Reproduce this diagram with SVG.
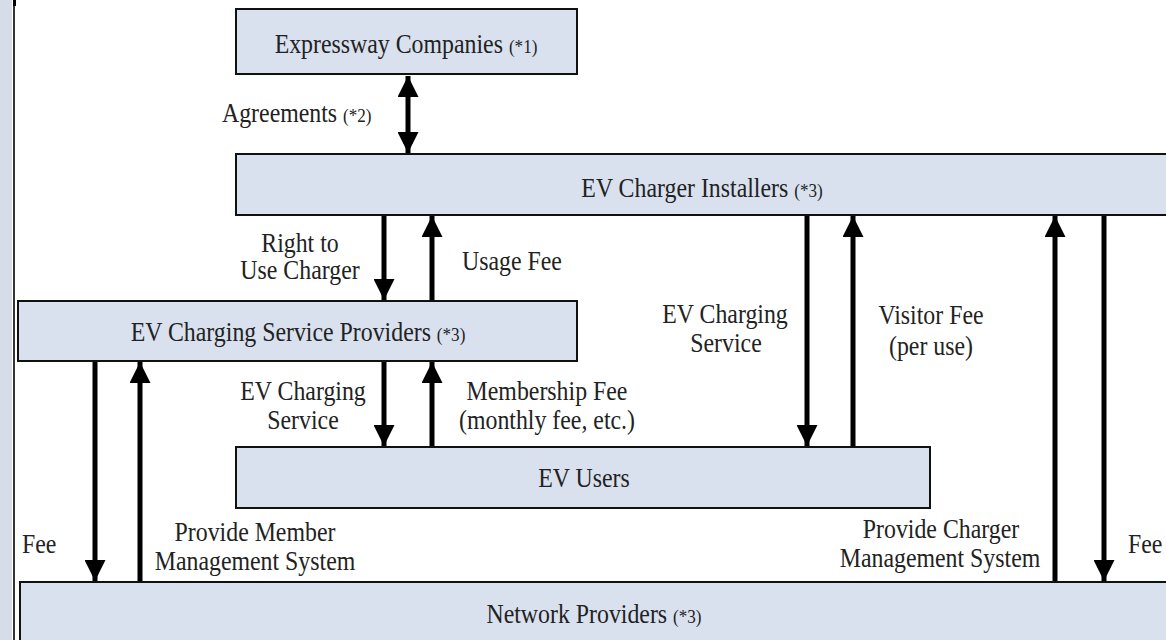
<svg xmlns="http://www.w3.org/2000/svg" width="1166" height="640" viewBox="0 0 1166 640">
<defs>
<marker id="ah" viewBox="0 0 10 10" refX="10" refY="5" markerWidth="4.2" markerHeight="4.2" orient="auto-start-reverse" markerUnits="strokeWidth">
<path d="M0,0 L10,5 L0,10 Z" fill="#000"/>
</marker>
</defs>
<rect x="0" y="0" width="1166" height="640" fill="#fff"/>
<rect x="0" y="0" width="12" height="640" fill="#d6dde8"/>
<line x1="14" y1="0" x2="14" y2="640" stroke="#333" stroke-width="2"/>
<line x1="14.5" y1="0" x2="14.5" y2="6" stroke="#000" stroke-width="3"/>

<g id="connectors" stroke="#000" stroke-width="5" fill="none">
<line x1="408" y1="76" x2="408" y2="153" marker-start="url(#ah)" marker-end="url(#ah)"/>
<line x1="384" y1="216" x2="384" y2="300" marker-end="url(#ah)"/>
<line x1="432" y1="300" x2="432" y2="216" marker-end="url(#ah)"/>
<line x1="384" y1="362" x2="384" y2="446" marker-end="url(#ah)"/>
<line x1="432" y1="446" x2="432" y2="362" marker-end="url(#ah)"/>
<line x1="807" y1="216" x2="807" y2="446" marker-end="url(#ah)"/>
<line x1="853" y1="446" x2="853" y2="216" marker-end="url(#ah)"/>
<line x1="1055" y1="582" x2="1055" y2="216" marker-end="url(#ah)"/>
<line x1="1104" y1="216" x2="1104" y2="581" marker-end="url(#ah)"/>
<line x1="95" y1="362" x2="95" y2="581" marker-end="url(#ah)"/>
<line x1="140" y1="582" x2="140" y2="362" marker-end="url(#ah)"/>
</g>

<g fill="#222">
<g id="expressway">
<rect x="236" y="9" width="341" height="65" fill="#d9e1ef" stroke="#111" stroke-width="2"/>
<text font-family="Liberation Serif" font-size="26.5" transform="translate(406,53) scale(0.9,1)" text-anchor="middle">Expressway Companies <tspan font-size="19">(*1)</tspan></text>
</g>
<g id="installers">
<rect x="236" y="154" width="940" height="61" fill="#d9e1ef" stroke="#111" stroke-width="2"/>
<text font-family="Liberation Serif" font-size="26.5" transform="translate(702,197) scale(0.9,1)" text-anchor="middle">EV Charger Installers <tspan font-size="19">(*3)</tspan></text>
</g>
<g id="providers">
<rect x="18" y="301" width="559" height="60" fill="#d9e1ef" stroke="#111" stroke-width="2"/>
<text font-family="Liberation Serif" font-size="26.5" transform="translate(298,341) scale(0.9,1)" text-anchor="middle">EV Charging Service Providers <tspan font-size="19">(*3)</tspan></text>
</g>
<g id="users">
<rect x="236" y="447" width="694" height="61" fill="#d9e1ef" stroke="#111" stroke-width="2"/>
<text font-family="Liberation Serif" font-size="26.5" transform="translate(584,487) scale(0.9,1)" text-anchor="middle">EV Users</text>
</g>
<g id="network">
<rect x="20" y="582" width="1160" height="70" fill="#d9e1ef" stroke="#111" stroke-width="2"/>
<text font-family="Liberation Serif" font-size="26.5" transform="translate(594,623) scale(0.9,1)" text-anchor="middle">Network Providers <tspan font-size="19">(*3)</tspan></text>
</g>

<g id="labels">
<text font-family="Liberation Serif" font-size="26.5" transform="translate(222,122) scale(0.9,1)">Agreements <tspan font-size="19">(*2)</tspan></text>
<text font-family="Liberation Serif" font-size="26.5" transform="translate(300,252) scale(0.9,1)" text-anchor="middle">Right to</text>
<text font-family="Liberation Serif" font-size="26.5" transform="translate(300,279) scale(0.9,1)" text-anchor="middle">Use Charger</text>
<text font-family="Liberation Serif" font-size="26.5" transform="translate(462,270) scale(0.9,1)">Usage Fee</text>
<text font-family="Liberation Serif" font-size="26.5" transform="translate(303,400) scale(0.9,1)" text-anchor="middle">EV Charging</text>
<text font-family="Liberation Serif" font-size="26.5" transform="translate(303,429) scale(0.9,1)" text-anchor="middle">Service</text>
<text font-family="Liberation Serif" font-size="26.5" transform="translate(547,400) scale(0.9,1)" text-anchor="middle">Membership Fee</text>
<text font-family="Liberation Serif" font-size="26.5" transform="translate(547,429) scale(0.9,1)" text-anchor="middle">(monthly fee, etc.)</text>
<text font-family="Liberation Serif" font-size="26.5" transform="translate(725,323) scale(0.9,1)" text-anchor="middle">EV Charging</text>
<text font-family="Liberation Serif" font-size="26.5" transform="translate(726,352) scale(0.9,1)" text-anchor="middle">Service</text>
<text font-family="Liberation Serif" font-size="26.5" transform="translate(931,324) scale(0.9,1)" text-anchor="middle">Visitor Fee</text>
<text font-family="Liberation Serif" font-size="26.5" transform="translate(931,355) scale(0.9,1)" text-anchor="middle">(per use)</text>
<text font-family="Liberation Serif" font-size="26.5" transform="translate(22,553) scale(0.9,1)">Fee</text>
<text font-family="Liberation Serif" font-size="26.5" transform="translate(255,541) scale(0.9,1)" text-anchor="middle">Provide Member</text>
<text font-family="Liberation Serif" font-size="26.5" transform="translate(255,570) scale(0.9,1)" text-anchor="middle">Management System</text>
<text font-family="Liberation Serif" font-size="26.5" transform="translate(941,538) scale(0.9,1)" text-anchor="middle">Provide Charger</text>
<text font-family="Liberation Serif" font-size="26.5" transform="translate(940,567) scale(0.9,1)" text-anchor="middle">Management System</text>
<text font-family="Liberation Serif" font-size="26.5" transform="translate(1128,553) scale(0.9,1)">Fee</text>
</g>
</g>
</svg>
